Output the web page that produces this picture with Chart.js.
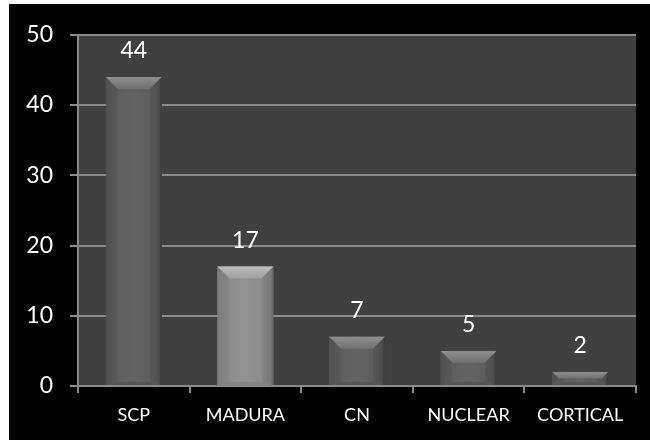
<!DOCTYPE html>
<html>
<head>
<meta charset="utf-8">
<script src="https://cdn.jsdelivr.net/npm/chart.js@4/dist/chart.umd.min.js"></script>
<style>
    html, body { margin: 0; padding: 0; background: #ffffff; }
    #wrap { position: absolute; left: 9px; top: 4px; width: 641px; height: 436px; }
</style>
</head>
<body>
<div id="wrap"><canvas id="chart" width="641" height="436"></canvas></div>
<script>
"use strict";
const categories = ['SCP', 'MADURA', 'CN', 'NUCLEAR', 'CORTICAL'];
const counts = [44, 17, 7, 5, 2];
const barColors = ['#5d5d5d', '#8b8b8b', '#5d5d5d', '#5d5d5d', '#5d5d5d'];
const yTicks = [0, 10, 20, 30, 40, 50];

const FONT = 'Lato, "Open Sans", sans-serif';

function shade(hex, amt) {
    const n = parseInt(hex.slice(1), 16);
    const c = [(n >> 16) & 255, (n >> 8) & 255, n & 255].map((v) => Math.max(0, Math.min(255, v + amt)));
    return `rgb(${c[0]},${c[1]},${c[2]})`;
}

const backdrop = {
    id: 'backdrop',
    beforeDraw(chart) {
        const { ctx, chartArea: a } = chart;
        ctx.save();
        ctx.fillStyle = '#000000';
        ctx.fillRect(0, 0, chart.width, chart.height);
        ctx.fillStyle = '#404040';
        ctx.fillRect(a.left, a.top, a.right - a.left, a.bottom - a.top);
        ctx.restore();
    }
};

// bevelled look on each bar, plus value labels
const bevel = {
    id: 'bevel',
    afterDatasetsDraw(chart) {
        const { ctx } = chart;
        const meta = chart.getDatasetMeta(0);
        ctx.save();
        meta.data.forEach((bar, i) => {
            const base = barColors[i];
            const w = bar.width;
            const left = bar.x - w / 2;
            const right = bar.x + w / 2;
            const top = bar.y;
            const bottom = bar.base;
            const h = bottom - top;
            const bev = Math.min(12, h / 2);

            // body with soft vertical edges
            const g = ctx.createLinearGradient(left, 0, right, 0);
            g.addColorStop(0, shade(base, -14));
            g.addColorStop(0.2, shade(base, -4));
            g.addColorStop(0.22, shade(base, 2));
            g.addColorStop(0.5, shade(base, 6));
            g.addColorStop(0.78, shade(base, 2));
            g.addColorStop(0.8, shade(base, -6));
            g.addColorStop(0.95, shade(base, -16));
            g.addColorStop(1, shade(base, -40));
            ctx.fillStyle = g;
            ctx.fillRect(left, top, w, h);

            // faint bottom bevel
            ctx.fillStyle = shade(base, -8);
            ctx.fillRect(left + 4, bottom - 3, w - 8, 3);

            // top bevel trapezoid
            const tg = ctx.createLinearGradient(0, top, 0, top + bev);
            tg.addColorStop(0, shade(base, 50));
            tg.addColorStop(1, shade(base, 18));
            ctx.fillStyle = tg;
            ctx.beginPath();
            ctx.moveTo(left, top);
            ctx.lineTo(right, top);
            ctx.lineTo(right - bev, top + bev);
            ctx.lineTo(left + bev, top + bev);
            ctx.closePath();
            ctx.fill();

            // value label
            ctx.fillStyle = '#ffffff';
            ctx.font = `23px ${FONT}`;
            ctx.textAlign = 'center';
            ctx.textBaseline = 'alphabetic';
            ctx.fillText(String(counts[i]), bar.x, top - 19);
        });
        ctx.restore();
    }
};

new Chart(document.getElementById('chart'), {
    type: 'bar',
    data: {
        labels: categories,
        datasets: [{
            data: counts,
            backgroundColor: barColors,
            borderWidth: 0,
            categoryPercentage: 1,
            barPercentage: 0.5
        }]
    },
    options: {
        responsive: false,
        animation: false,
        events: [],
        layout: { padding: { left: 0, top: 30, right: 14, bottom: 0 } },
        plugins: {
            legend: { display: false },
            tooltip: { enabled: false }
        },
        scales: {
            y: {
                min: 0,
                max: 50,
                afterFit(scale) { scale.width = 69; },
                afterBuildTicks(scale) { scale.ticks = yTicks.map((v) => ({ value: v })); },
                border: { display: true, color: '#8a8a8a', width: 2 },
                grid: { color: '#8a8a8a', lineWidth: 2, tickLength: 8 },
                ticks: { color: '#ffffff', padding: 17, font: { family: FONT, size: 23 } }
            },
            x: {
                afterFit(scale) { scale.height = 54; },
                border: { display: true, color: '#8a8a8a', width: 2 },
                grid: { drawOnChartArea: false, drawTicks: true, tickLength: 7, color: '#8a8a8a', lineWidth: 2 },
                ticks: { color: '#ffffff', padding: 11, font: { family: FONT, size: 18 } }
            }
        }
    },
    plugins: [backdrop, bevel]
});
</script>
</body>
</html>
